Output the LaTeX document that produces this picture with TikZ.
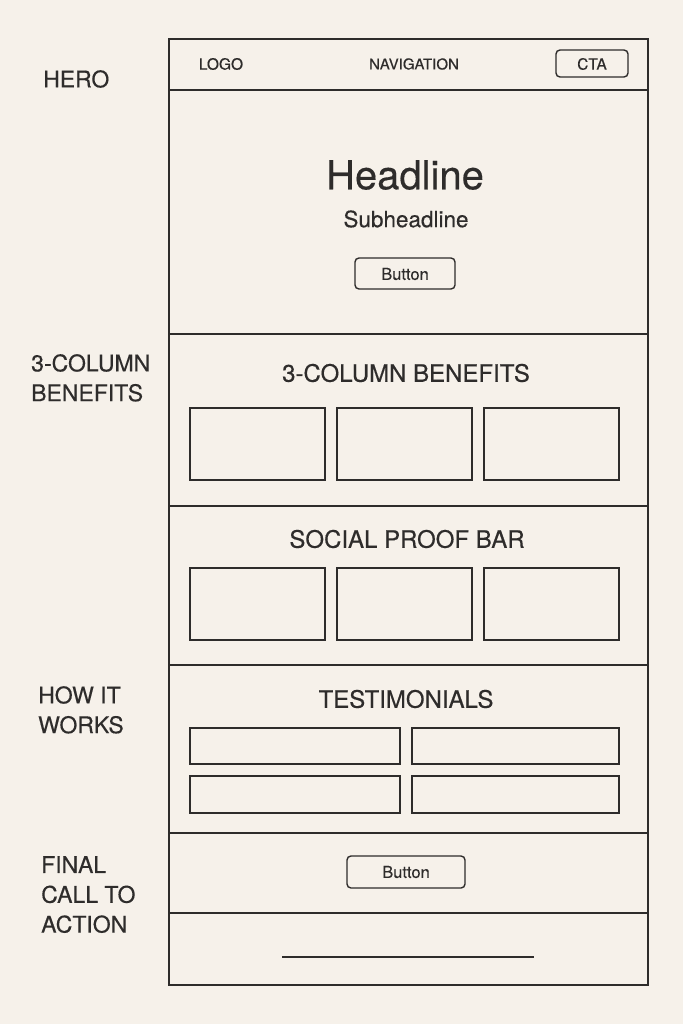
\documentclass[tikz,border=0pt]{standalone}
\usepackage{fontspec}
\setmainfont{TeX Gyre Heros}[FakeBold=0.35]
\definecolor{bg}{HTML}{F6F1EA}
\definecolor{ink}{HTML}{2E2C2B}
\begin{document}
\begin{tikzpicture}[x=1pt,y=-1pt,
  frame/.style={draw=ink,line width=1.8pt},
  sep/.style={draw=ink,line width=1.6pt},
  card/.style={draw=ink,line width=1.4pt},
  btn/.style={draw=ink,line width=1.4pt,rounded corners=4pt},
  lbl/.style={inner sep=0pt,anchor=north west,align=left,text=ink,font=\fontsize{23}{29.8}\selectfont},
  txt/.style={inner sep=0pt,text=ink}]
\fill[bg] (0,0) rectangle (683,1024);
\useasboundingbox (0,0) rectangle (683,1024);
% outer frame
\draw[frame] (169,39) rectangle (648,985);
% separators
\coordinate (hl) at (169,90);   \coordinate (hr) at (648,90);
\coordinate (s1l) at (169,334); \coordinate (s1r) at (648,334);
\coordinate (s2l) at (169,506); \coordinate (s2r) at (648,506);
\coordinate (s3l) at (169,665); \coordinate (s3r) at (648,665);
\coordinate (s4l) at (169,833); \coordinate (s4r) at (648,833);
\coordinate (s5l) at (169,913); \coordinate (s5r) at (648,913);
\draw[sep] (hl) -- (hr);
\draw[sep] (s1l) -- (s1r);
\draw[sep] (s2l) -- (s2r);
\draw[sep] (s3l) -- (s3r);
\draw[sep] (s4l) -- (s4r);
\draw[sep] (s5l) -- (s5r);
% header
\node[txt,font=\fontsize{15.5}{18}\selectfont] (logo) at (221,64) {LOGO};
\node[txt,font=\fontsize{15}{18}\selectfont] (nav) at (414,64) {NAVIGATION};
\draw[btn] (556,50) rectangle (628,77);
\node[txt,font=\fontsize{15.5}{18}\selectfont] (cta) at (592,64) {CTA};
% hero
\node[txt,font=\fontsize{40}{46}\selectfont] (head) at (405,175) {Headline};
\node[txt,font=\fontsize{22.5}{26}\selectfont] (sub) at (406,219) {Subheadline};
\draw[btn] (355,258) rectangle (455,289);
\node[txt,font=\fontsize{16.5}{20}\selectfont] (b1) at (405,274) {Button};
% benefits
\node[txt,font=\fontsize{24}{28}\selectfont] (ben) at (406,373) {3-COLUMN BENEFITS};
\draw[card] (190,408) rectangle (325,480);
\draw[card] (337,408) rectangle (472,480);
\draw[card] (484,408) rectangle (619,480);
% social proof
\node[txt,font=\fontsize{24}{28}\selectfont] (soc) at (407,539) {SOCIAL PROOF BAR};
\draw[card] (190,568) rectangle (325,640);
\draw[card] (337,568) rectangle (472,640);
\draw[card] (484,568) rectangle (619,640);
% testimonials
\node[txt,font=\fontsize{24}{28}\selectfont] (tes) at (406,699) {TESTIMONIALS};
\draw[card] (190,728) rectangle (400,764);
\draw[card] (412,728) rectangle (619,764);
\draw[card] (190,776) rectangle (400,813);
\draw[card] (412,776) rectangle (619,813);
% final cta
\draw[btn] (347,856) rectangle (465,888);
\node[txt,font=\fontsize{16.5}{20}\selectfont] (b2) at (406,872) {Button};
% footer line
\coordinate (fl) at (282,957); \coordinate (fr) at (534,957);
\draw[ink,line width=1.4pt] (fl) -- (fr);
% left labels
\node[lbl] (l1) at (43,70) {HERO};
\node[lbl] (l2) at (31,354) {3-COLUMN\\BENEFITS};
\node[lbl] (l3) at (38,686) {HOW IT\\WORKS};
\node[lbl] (l4) at (41,856) {FINAL\\CALL TO\\ACTION};
\end{tikzpicture}
\end{document}
